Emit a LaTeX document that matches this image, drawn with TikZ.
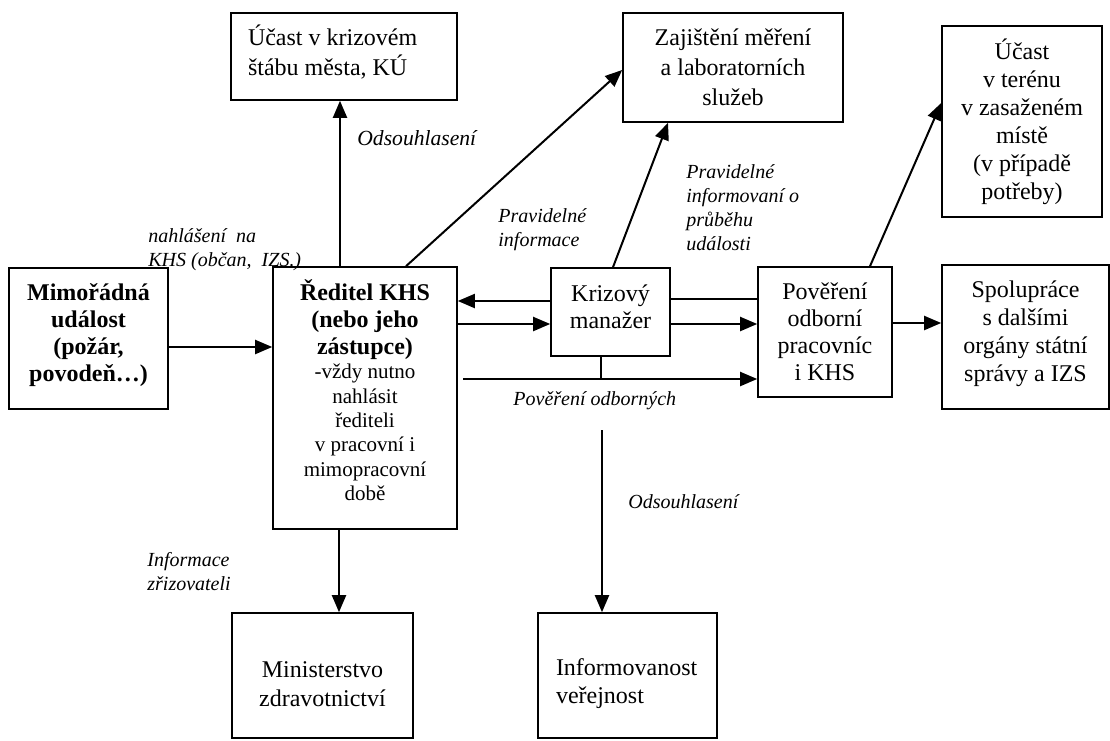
\documentclass[tikz,border=0pt]{standalone}
\usepackage{fontspec}
\setmainfont{Liberation Serif}
\usetikzlibrary{arrows.meta}

\begin{document}
\begin{tikzpicture}[x=0.5pt, y=-0.5pt,
  box/.style={draw, line width=0.8pt, inner sep=0pt, align=flush center, font=\fontsize{12}{13.5}\selectfont},
  lbl/.style={inner sep=0pt, align=left, anchor=west, font=\itshape\fontsize{10}{12}\selectfont},
  arr/.style={line width=1pt, -{Triangle[length=8.5pt,width=7pt]}},
  ln/.style={line width=1pt}]
\useasboundingbox (0,0) rectangle (1110,740);

% boxes
\node[box, minimum width=113pt, minimum height=43.5pt, text width=96pt, align=flush left, font=\fontsize{12}{15}\selectfont] (krst) at (344,56.5) {Účast v krizovém\\štábu města, KÚ\rule[-6pt]{0pt}{6pt}};
\node[box, minimum width=110pt, minimum height=54.5pt, text width=100pt, font=\fontsize{12}{15}\selectfont] (zaj) at (733,67.5) {Zajištění měření\\a laboratorních\\služeb};
\node[box, minimum width=80pt, minimum height=95.5pt, text width=76pt, font=\fontsize{12}{14}\selectfont] (teren) at (1022,121.5) {Účast\\v terénu\\v zasaženém\\místě\\(v případě\\potřeby)};
\node[box, minimum width=79.5pt, minimum height=70.5pt, text width=75pt, font=\bfseries\fontsize{12}{13.5}\selectfont] (mim) at (88.5,338.5) {Mimořádná\\událost\\(požár,\\povodeň…)\rule[-5.5pt]{0pt}{5.5pt}};
\node[box, minimum width=92pt, minimum height=131pt, text width=88pt] (red) at (365,398)
  {{\bfseries\fontsize{12}{13.5}\selectfont Ředitel KHS\\(nebo jeho\\zástupce)\par}
   {\fontsize{10.5}{12.2}\selectfont -vždy nutno\\nahlásit\\řediteli\\v pracovní i\\mimopracovní\\době\rule[-8pt]{0pt}{8pt}\par}};
\node[box, minimum width=59.5pt, minimum height=44pt, text width=56pt] (kriz) at (610.5,312) {Krizový\\manažer\rule[-5pt]{0pt}{5pt}};
\node[box, minimum width=67pt, minimum height=65pt, text width=64pt] (pov) at (825,332) {Pověření\\odborní\\pracovníc\\i KHS};
\node[box, minimum width=83.5pt, minimum height=72pt, text width=80pt, font=\fontsize{12}{14}\selectfont] (spol) at (1025.5,337) {Spolupráce\\s dalšími\\orgány státní\\správy a IZS\rule[-5.7pt]{0pt}{5.7pt}};
\node[box, minimum width=90.5pt, minimum height=62.5pt, text width=88pt, font=\fontsize{12}{14.5}\selectfont] (min) at (322.5,675.5) {\rule{0pt}{17pt}Ministerstvo\\zdravotnictví};
\node[box, minimum width=89.5pt, minimum height=62.5pt, text width=71.5pt, align=flush left, font=\fontsize{12}{14}\selectfont] (inf) at (627.5,675.5) {\rule{0pt}{17pt}Informovanost\\veřejnost};

% labels
\node[lbl, font=\itshape\fontsize{10.8}{12}\selectfont] (l1) at (357,138) {Odsouhlasení};
\node[lbl] (l2) at (148,249.5) {nahlášení\ \ na\\KHS (občan,\ \ IZS.)};
\node[lbl] (l3) at (498,230) {Pravidelné\\informace};
\node[lbl] (l4) at (686,208) {Pravidelné\\informovaní o\\průběhu\\události};
\node[lbl] (l5) at (513,401) {Pověření odborných};
\node[lbl] (l6) at (628,502) {Odsouhlasení};
\node[lbl] (l7) at (147,571.5) {Informace\\zřizovateli};

% connectors
\coordinate (povstart) at (463,379);
\coordinate (odsstart) at (602,430);
\draw[arr] (mim.east |- 0,347) -- (red.west |- 0,347);
\draw[arr] (red.north -| 340,0) -- (krst.south -| 340,0);
\draw[arr] (red.north -| 406,0) -- (zaj.west |- 0,70);
\draw[arr] (kriz.west |- 0,301) -- (red.east |- 0,301);
\draw[arr] (red.east |- 0,324) -- (kriz.west |- 0,324);
\draw[ln] (kriz.east |- 0,299) -- (pov.west |- 0,299);
\draw[arr] (kriz.east |- 0,324) -- (pov.west |- 0,324);
\draw[arr] (povstart) -- (pov.west |- povstart);
\draw[ln] (kriz.south -| 601,0) -- (povstart -| 601,0);
\draw[arr] (kriz.north -| 613,0) -- (zaj.south -| 668,0);
\draw[arr] (pov.north -| 870,0) -- (teren.west |- 0,103);
\draw[arr] (pov.east |- 0,323) -- (spol.west |- 0,323);
\draw[arr] (red.south -| 339,0) -- (min.north -| 339,0);
\draw[arr] (odsstart) -- (inf.north -| odsstart);
\end{tikzpicture}
\end{document}
